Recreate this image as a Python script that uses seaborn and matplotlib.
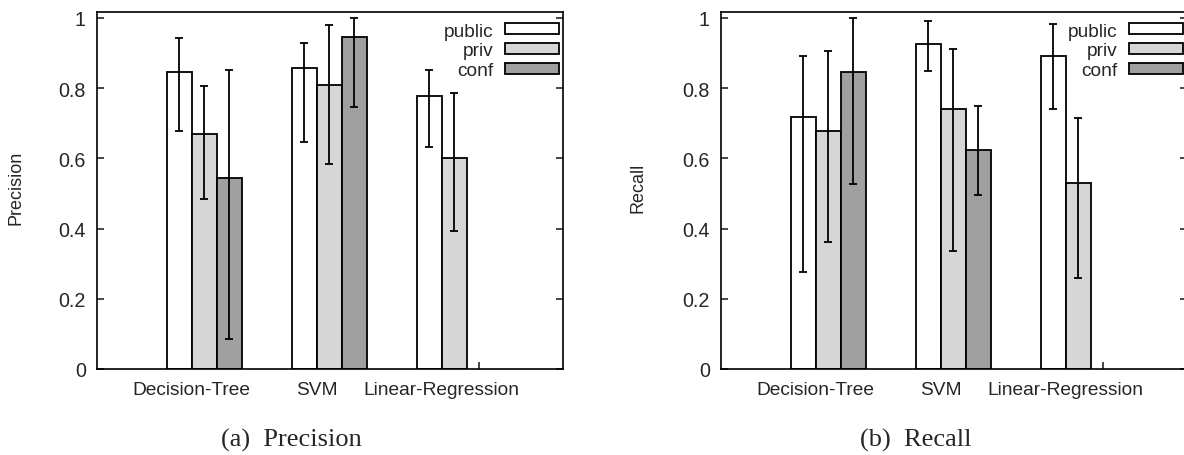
import numpy as np
import pandas as pd
import matplotlib
matplotlib.use("Agg")
import matplotlib.pyplot as plt
from matplotlib.patches import Patch
from matplotlib.ticker import FixedLocator, FixedFormatter
import seaborn as sns

# -----------------------------
# Data
# -----------------------------
models = ["Decision-Tree", "SVM", "Linear-Regression"]
sources = ["public", "priv", "conf"]

# precision: mean, lower end, upper end of error bar (None = no bar)
prec_public = [0.845, 0.858, 0.778]
prec_public_lo = [0.677, 0.648, 0.631]
prec_public_hi = [0.942, 0.929, 0.853]
prec_priv = [0.670, 0.810, 0.600]
prec_priv_lo = [0.484, 0.585, 0.392]
prec_priv_hi = [0.807, 0.980, 0.785]
prec_conf = [0.544, 0.945, None]
prec_conf_lo = [0.085, 0.747, None]
prec_conf_hi = [0.853, 0.999, None]

# recall
rec_public = [0.719, 0.925, 0.891]
rec_public_lo = [0.275, 0.850, 0.741]
rec_public_hi = [0.891, 0.991, 0.983]
rec_priv = [0.677, 0.741, 0.531]
rec_priv_lo = [0.363, 0.337, 0.258]
rec_priv_hi = [0.907, 0.912, 0.716]
rec_conf = [0.845, 0.624, None]
rec_conf_lo = [0.526, 0.497, None]
rec_conf_hi = [1.000, 0.748, None]

yticks = [0, 0.2, 0.4, 0.6, 0.8, 1.0]
ytick_labels = ["0", "0.2", "0.4", "0.6", "0.8", "1"]

colors = {"public": "#ffffff", "priv": "#d6d6d6", "conf": "#a0a0a0"}


def build_frame(series):
    rows = []
    for src, (vals, lo, hi) in zip(sources, series):
        for m, v, l, h in zip(models, vals, lo, hi):
            if v is None:
                continue
            rows.append({"model": m, "source": src, "value": v, "lo": l, "hi": h})
    return pd.DataFrame(rows)


prec_df = build_frame([
    (prec_public, prec_public_lo, prec_public_hi),
    (prec_priv, prec_priv_lo, prec_priv_hi),
    (prec_conf, prec_conf_lo, prec_conf_hi),
])
rec_df = build_frame([
    (rec_public, rec_public_lo, rec_public_hi),
    (rec_priv, rec_priv_lo, rec_priv_hi),
    (rec_conf, rec_conf_lo, rec_conf_hi),
])

# -----------------------------
# Style
# -----------------------------
sns.set_style("white")
plt.rcParams["font.family"] = ["Liberation Sans", "DejaVu Sans"]
plt.rcParams["axes.linewidth"] = 1.2

fig = plt.figure(figsize=(11.84, 4.56), dpi=100)
ax1 = fig.add_axes([0.0819, 0.1886, 0.3936, 0.7829])
ax2 = fig.add_axes([0.6090, 0.1886, 0.3936, 0.7829])


def draw_panel(ax, df, ylabel, label_x):
    sns.barplot(
        data=df, x="model", y="value", hue="source",
        order=models, hue_order=sources, palette=colors,
        width=0.6, saturation=1, errorbar=None, legend=False,
        edgecolor="black", linewidth=1.3, ax=ax,
    )

    # asymmetric error bars on top of the bars
    for container, src in zip(ax.containers, sources):
        sub = df[df["source"] == src].set_index("model")
        sub = sub.reindex([m for m in models if m in sub.index])
        for bar, (_, row) in zip(container.patches, sub.iterrows()):
            xc = bar.get_x() + bar.get_width() / 2
            ax.errorbar(
                xc, row["value"],
                yerr=[[row["value"] - row["lo"]], [row["hi"] - row["value"]]],
                fmt="none", ecolor="black", elinewidth=1.3,
                capsize=3, capthick=1.3, zorder=5,
            )

    ax.set_xlim(-0.858, 2.87)
    ax.set_ylim(0, 1.017)

    ax.set_xticks([i - 0.1 for i in range(len(models))])
    ax.set_xticklabels(models, fontsize=13.8)
    ax.set_xticks([2.2], minor=True)
    ax.tick_params(axis="x", which="major", length=0, pad=9)
    ax.tick_params(axis="x", which="minor", direction="in", length=5,
                   width=1.2, bottom=True, top=False)

    ax.yaxis.set_major_locator(FixedLocator(yticks))
    ax.yaxis.set_major_formatter(FixedFormatter(ytick_labels))
    ax.tick_params(axis="y", direction="in", length=5, width=1.2,
                   left=True, right=True, labelsize=14.2, pad=8)

    for sp in ax.spines.values():
        sp.set_visible(True)
        sp.set_color("black")
        sp.set_linewidth(1.2)

    ax.set_xlabel("")
    ax.set_ylabel(ylabel, fontsize=13)
    ax.yaxis.set_label_coords(label_x, 0.51)

    handles = [Patch(facecolor=colors[s], edgecolor="black", linewidth=1.3)
               for s in sources]
    ax.legend(
        handles, sources, loc="upper right", bbox_to_anchor=(1.013, 1.0),
        frameon=False, markerfirst=False, fontsize=13.8, handlelength=2.8,
        handleheight=0.5, handletextpad=0.6, labelspacing=0.15,
        borderaxespad=0.3, borderpad=0.25,
    )


draw_panel(ax1, prec_df, "Precision", -0.155)
draw_panel(ax2, rec_df, "Recall", -0.159)

fig.text(0.2464, 0.035, "(a)  Precision", ha="center", va="center",
         fontsize=19, family="Liberation Serif")
fig.text(0.7736, 0.035, "(b)  Recall", ha="center", va="center",
         fontsize=19, family="Liberation Serif")

fig.savefig("out.png", dpi=100)
plt.close(fig)
